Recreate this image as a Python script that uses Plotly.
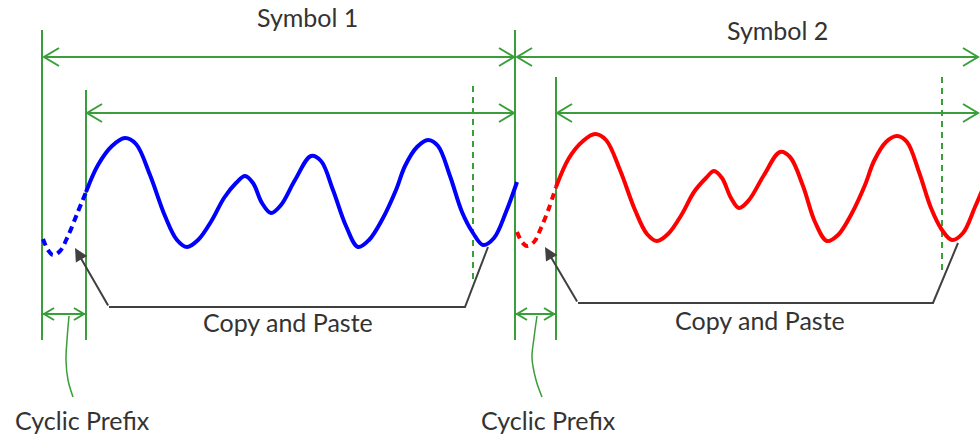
import plotly.graph_objects as go

# ---------------- data (pixel space) ----------------
# Symbol 1 waveform (blue)
sym1_cp_x = [43, 48, 53, 60, 68, 77, 86]
sym1_cp_y = [239, 250, 255, 251, 236, 214, 192]
sym1_x = [86, 98, 112, 125, 136, 150, 165, 177, 187, 198, 212, 224, 236, 245, 253, 262, 271,
          281, 295, 311, 321, 333, 346, 358, 369, 383, 396, 405, 417, 428, 438, 450, 462,
          473, 483, 494, 506, 517]
sym1_y = [192, 165, 146, 138, 144, 175, 216, 240, 247, 240, 220, 198, 183, 176, 183, 203, 213,
          205, 180, 156, 161, 190, 226, 247, 240, 218, 190, 166, 147, 140, 146, 176, 212,
          233, 245, 238, 212, 182]
# Symbol 2 waveform (red)
sym2_cp_x = [517, 522, 527, 534, 541, 549, 556]
sym2_cp_y = [232, 242, 246, 242, 228, 208, 187]
sym2_x = [556, 569, 583, 595, 606, 620, 635, 647, 657, 668, 682, 694, 706, 714, 722, 731, 739,
          749, 764, 780, 790, 803, 815, 827, 838, 852, 865, 874, 886, 897, 907, 919, 931,
          942, 952, 963, 975, 988]
sym2_y = [187, 158, 141, 134, 140, 170, 210, 234, 241, 234, 214, 192, 178, 171, 178, 198, 208,
          200, 175, 152, 157, 186, 222, 241, 235, 213, 185, 161, 142, 136, 142, 172, 208,
          230, 240, 233, 207, 176]

# Diagram guides
symbol_labels = ["Symbol 1", "Symbol 2"]
symbol_start = [42, 515]
symbol_end = [515, 985]
data_start = [86, 556]
copy_mark = [473, 942]
label_pos = [(307, 17), (777, 30)]

BLUE = "#0000FF"
RED = "#FF0000"
GREEN = "#3A9E3A"
GRAY = "#404040"
TXT = "#333333"
FONT = "Lato"
FS = 25

fig = go.Figure()


def seg(xs, ys, color, width=2, dash="solid", shape="linear"):
    fig.add_trace(go.Scatter(x=xs, y=ys, mode="lines", hoverinfo="skip",
                             line=dict(color=color, width=width, dash=dash, shape=shape),
                             showlegend=False))


def chevron(tipx, tipy, dx, dy, length, half, color, width=2):
    px, py = -dy, dx
    bx, by = tipx - dx * length, tipy - dy * length
    seg([bx + px * half, tipx, bx - px * half], [by + py * half, tipy, by - py * half], color, width)


# vertical guide lines
seg([42, 42], [30, 340], GREEN)
seg([515, 515], [30, 340], GREEN)
seg([86, 86], [90, 340], GREEN)
seg([556, 556], [77, 340], GREEN)
seg([copy_mark[0], copy_mark[0]], [86, 282], GREEN, 2, "6px,5px")
seg([copy_mark[1], copy_mark[1]], [77, 274], GREEN, 2, "6px,5px")

# symbol arrows
for i in range(2):
    s, e = symbol_start[i], symbol_end[i]
    right = e - 1 if i == 0 else 978
    seg([s + 2, right], [57, 57], GREEN)
    chevron(s + 2, 57, -1, 0, 15, 9, GREEN)
    chevron(right, 57, 1, 0, 15, 9, GREEN)
    d = data_start[i]
    seg([d, right], [113, 113], GREEN)
    chevron(d + 1, 113, -1, 0, 15, 9, GREEN)
    chevron(right, 113, 1, 0, 15, 9, GREEN)
    fig.add_annotation(x=label_pos[i][0], y=label_pos[i][1], text=symbol_labels[i],
                       showarrow=False, font=dict(family=FONT, size=FS, color=TXT))

# cyclic prefix arrows
for i in range(2):
    s, d = symbol_start[i], data_start[i]
    seg([s + 1, d - 1], [314, 314], GREEN)
    chevron(s + 2, 314, -1, 0, 10, 6, GREEN)
    chevron(d - 2, 314, 1, 0, 10, 6, GREEN)

seg([69, 67, 66, 68, 73], [316, 340, 360, 380, 397], GREEN, 1.5, shape="spline")
seg([537, 534, 532, 536, 542], [316, 338, 358, 380, 397], GREEN, 1.5, shape="spline")

# copy and paste brackets
brackets = [
    ([75, 109, 465, 488], [248, 307, 307, 247]),
    ([545, 578, 933, 958], [247, 303, 303, 243]),
]
for bx, by in brackets:
    seg(bx[1:], by[1:], GRAY, 2)
    fig.add_annotation(x=bx[0], y=by[0], ax=bx[1], ay=by[1], axref="x", ayref="y",
                       xref="x", yref="y", showarrow=True, arrowhead=2, arrowsize=1.3,
                       arrowwidth=2, arrowcolor=GRAY, text="")

for (tx, ty, t) in [(288, 322, "Copy and Paste"), (760, 320, "Copy and Paste"),
                    (82, 420, "Cyclic Prefix"), (548, 420, "Cyclic Prefix")]:
    fig.add_annotation(x=tx, y=ty, text=t, showarrow=False,
                       font=dict(family=FONT, size=FS, color=TXT))

# waveforms
fig.add_trace(go.Scatter(x=sym1_cp_x, y=sym1_cp_y, mode="lines", showlegend=False,
                         line=dict(color=BLUE, width=4, dash="7px,5px", shape="spline")))
fig.add_trace(go.Scatter(x=sym1_x, y=sym1_y, mode="lines", showlegend=False,
                         line=dict(color=BLUE, width=4, shape="spline", smoothing=1)))
fig.add_trace(go.Scatter(x=sym2_cp_x, y=sym2_cp_y, mode="lines", showlegend=False,
                         line=dict(color=RED, width=4, dash="7px,5px", shape="spline")))
fig.add_trace(go.Scatter(x=sym2_x, y=sym2_y, mode="lines", showlegend=False,
                         line=dict(color=RED, width=4, shape="spline", smoothing=1)))

fig.update_layout(
    width=980, height=436, margin=dict(l=0, r=0, t=0, b=0),
    paper_bgcolor="white", plot_bgcolor="white",
    xaxis=dict(range=[0, 980], visible=False, fixedrange=True),
    yaxis=dict(range=[436, 0], visible=False, fixedrange=True),
)
fig.write_html("out.html", config={"displayModeBar": False},
               post_script="document.body.style.margin='0';document.body.style.overflow='hidden';")
